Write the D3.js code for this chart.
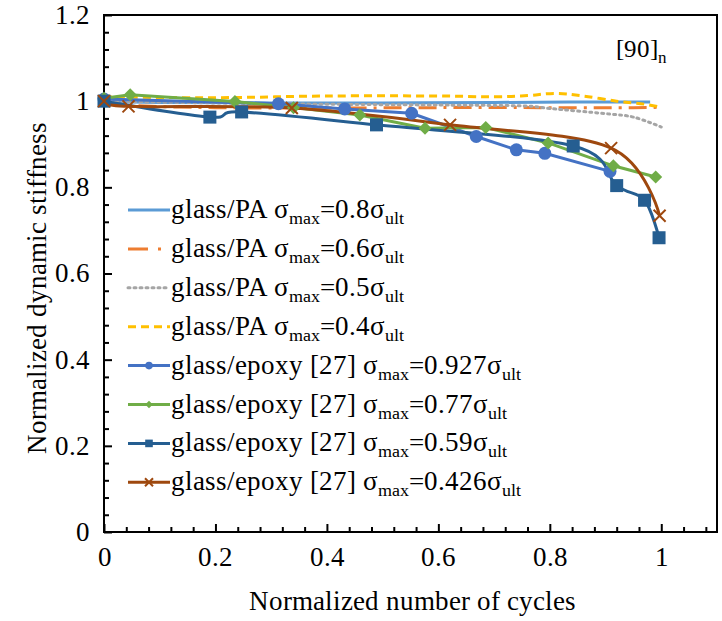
<!DOCTYPE html>
<html>
<head>
<meta charset="utf-8">
<script src="https://cdn.jsdelivr.net/npm/d3@7"></script>
<style>
  @font-face {
    font-family: "ChartSerif";
    src: local("Liberation Serif"), local("LiberationSerif"), local("LiberationSerif-Regular"),
         local("Times New Roman"), local("DejaVu Serif"), local("DejaVuSerif");
  }
  body { margin: 0; background: #fff; }
  svg text { font-family: "ChartSerif", "Liberation Serif", "Times New Roman", Tinos, "DejaVu Serif", serif; fill: #000; }
</style>
</head>
<body>
<svg id="chart"></svg>
<script>
// tick values
const xMajor = [0, 0.2, 0.4, 0.6, 0.8, 1];
const yMajor = [0, 0.2, 0.4, 0.6, 0.8, 1, 1.2];

// glass/PA series (dense curves, no markers)
const pa08 = [[0, 1.0], [0.1, 0.997], [0.3, 0.996], [0.5, 0.996], [0.7, 0.997], [0.85, 0.998], [0.98, 0.998]];
const pa06 = [[0, 1.0], [0.05, 0.99], [0.2, 0.985], [0.4, 0.984], [0.6, 0.985], [0.8, 0.985], [0.95, 0.985], [1.0, 0.986]];
const pa05 = [[0, 1.0], [0.3, 0.994], [0.6, 0.991], [0.75, 0.989], [0.8, 0.983], [0.9, 0.971], [0.95, 0.963], [1.0, 0.94]];
const pa04 = [[0, 1.01], [0.2, 1.008], [0.4, 1.012], [0.6, 1.012], [0.7, 1.01], [0.76, 1.013], [0.81, 1.018], [0.86, 1.012], [0.92, 1.0], [0.97, 0.993], [1.0, 0.986]];

// glass/epoxy [27] series (with markers)
const ep0927 = [[0, 1.005], [0.313, 0.994], [0.432, 0.982], [0.552, 0.972], [0.668, 0.918], [0.74, 0.887], [0.791, 0.879], [0.908, 0.837]];
const ep077 = [[0, 1.007], [0.047, 1.015], [0.235, 0.999], [0.34, 0.985], [0.459, 0.968], [0.576, 0.937], [0.685, 0.939], [0.797, 0.903], [0.914, 0.85], [0.99, 0.824]];
const ep059 = [[0, 1.0], [0.19, 0.963], [0.247, 0.975], [0.489, 0.945], [0.842, 0.896], [0.92, 0.804], [0.97, 0.77], [0.996, 0.683]];
const ep0426 = [[0, 1.0], [0.044, 0.988], [0.337, 0.984], [0.621, 0.945], [0.91, 0.891], [0.997, 0.734]];

// legend text
const legendMaterial = ['glass/PA', 'glass/PA', 'glass/PA', 'glass/PA',
  'glass/epoxy [27]', 'glass/epoxy [27]', 'glass/epoxy [27]', 'glass/epoxy [27]'];
const legendRatio = ['0.8', '0.6', '0.5', '0.4', '0.927', '0.77', '0.59', '0.426'];

const series = [
  { data: pa08, color: '#5B9BD5', dash: null, marker: null, smooth: true },
  { data: pa06, color: '#ED7D31', dash: '18,7,3,7', marker: null, smooth: true },
  { data: pa05, color: '#A5A5A5', dash: '2,4', marker: null, smooth: true },
  { data: pa04, color: '#FFC000', dash: '8,5', marker: null, smooth: true },
  { data: ep0927, color: '#4472C4', dash: null, marker: 'circle', smooth: false },
  { data: ep077, color: '#70AD47', dash: null, marker: 'diamond', smooth: false },
  { data: ep059, color: '#255E91', dash: null, marker: 'square', smooth: true },
  { data: ep0426, color: '#9E480E', dash: null, marker: 'cross', smooth: true }
];

const W = 722;
const H = 621;
const margin = { top: 15, right: 5, bottom: 89, left: 104 };
const width = W - margin.left - margin.right;
const height = H - margin.top - margin.bottom;
const fontSize = 26.5;

const svg = d3.select('#chart')
    .attr('width', W)
    .attr('height', H);

const g = svg.append('g')
    .attr('transform', `translate(${margin.left}, ${margin.top})`);

const x = d3.scaleLinear().domain([0, 1.1]).range([0, width]);
const y = d3.scaleLinear().domain([0, 1.2]).range([height, 0]);

const fmt = d3.format('~g');

// minor ticks (inside)
const xMinor = d3.range(0, 1.1, 0.04).filter(v => Math.abs(v / 0.2 - Math.round(v / 0.2)) > 1e-6);
const yMinor = d3.range(0, 1.2, 0.04).filter(v => Math.abs(v / 0.2 - Math.round(v / 0.2)) > 1e-6);

g.append('g')
    .attr('class', 'axis')
    .attr('transform', `translate(0, ${height})`)
    .call(d3.axisBottom(x).tickValues(xMinor).tickFormat('').tickSizeInner(-5).tickSizeOuter(0));

g.append('g')
    .attr('class', 'axis')
    .call(d3.axisLeft(y).tickValues(yMinor).tickFormat('').tickSizeInner(-5).tickSizeOuter(0));

g.append('g')
    .attr('class', 'axis x-major')
    .attr('transform', `translate(0, ${height})`)
    .call(d3.axisBottom(x).tickValues(xMajor).tickFormat(fmt).tickSizeInner(-8).tickSizeOuter(0).tickPadding(15));

g.append('g')
    .attr('class', 'axis y-major')
    .call(d3.axisLeft(y).tickValues(yMajor).tickFormat(fmt).tickSizeInner(-8).tickSizeOuter(0).tickPadding(14));

g.selectAll('.axis .domain').remove();
g.selectAll('.axis line').attr('stroke', '#000').attr('stroke-width', 2);
g.selectAll('.axis').attr('font-family', null).attr('font-size', null);
g.selectAll('.axis text')
    .attr('font-size', fontSize)
    .attr('fill', '#000');
g.selectAll('.x-major text').attr('dy', '0.71em');

// frame
g.append('rect')
    .attr('width', width)
    .attr('height', height)
    .attr('fill', 'none')
    .attr('stroke', '#000')
    .attr('stroke-width', 2);

// axis titles
svg.append('text')
    .attr('x', margin.left + width / 2 + 2)
    .attr('y', 610)
    .attr('text-anchor', 'middle')
    .attr('font-size', fontSize)
    .text('Normalized number of cycles');

svg.append('text')
    .attr('transform', `translate(46, ${margin.top + height / 2 + 14}) rotate(-90)`)
    .attr('text-anchor', 'middle')
    .attr('font-size', fontSize)
    .text('Normalized dynamic stiffness');

// [90]n label
const lay = svg.append('text')
    .attr('x', 616)
    .attr('y', 57)
    .attr('font-size', 25);
lay.append('tspan').text('[90]');
lay.append('tspan').attr('dy', 6).attr('font-size', 17).text('n');

// lines
const lineSmooth = d3.line()
    .x(d => x(d[0]))
    .y(d => y(d[1]))
    .curve(d3.curveCatmullRom.alpha(0));

const lineStraight = d3.line()
    .x(d => x(d[0]))
    .y(d => y(d[1]));

const plot = g.append('g');

series.forEach((s) => {
  plot.append('path')
    .datum(s.data)
    .attr('fill', 'none')
    .attr('stroke', s.color)
    .attr('stroke-width', 3)
    .attr('stroke-linecap', s.dash === '2,4' ? 'round' : 'butt')
    .attr('stroke-dasharray', s.dash)
    .attr('d', s.smooth ? lineSmooth : lineStraight);
});

// markers
function drawMarker(sel, type, color, r) {
  if (type === 'circle') {
    sel.append('circle').attr('r', r).attr('fill', color);
  } else if (type === 'square') {
    sel.append('rect').attr('x', -r).attr('y', -r).attr('width', 2 * r).attr('height', 2 * r).attr('fill', color);
  } else if (type === 'diamond') {
    sel.append('path').attr('d', `M0,${-r}L${r},0L0,${r}L${-r},0Z`).attr('fill', color);
  } else if (type === 'cross') {
    sel.append('path')
      .attr('d', `M${-r},${-r}L${r},${r}M${-r},${r}L${r},${-r}`)
      .attr('stroke', color)
      .attr('stroke-width', 2)
      .attr('fill', 'none');
  }
}

const markerSize = { circle: 6.5, square: 6.5, diamond: 6.5, cross: 6 };

series.filter(s => s.marker).forEach((s) => {
  s.data.forEach((d) => {
    const m = plot.append('g').attr('transform', `translate(${x(d[0])}, ${y(d[1])})`);
    drawMarker(m, s.marker, s.color, markerSize[s.marker]);
  });
});

// legend
const legend = svg.append('g').attr('class', 'legend');
const rowY0 = 210;
const rowStep = 38.9;

series.forEach((s, i) => {
  const ry = rowY0 + i * rowStep;
  const row = legend.append('g').attr('transform', `translate(0, ${ry})`);
  row.append('line')
    .attr('x1', 128)
    .attr('x2', 170)
    .attr('stroke', s.color)
    .attr('stroke-width', 3)
    .attr('stroke-linecap', s.dash === '2,4' ? 'round' : 'butt')
    .attr('stroke-dasharray', s.dash === '18,7,3,7' ? '20,10,3,9' : s.dash);
  if (s.marker) {
    const m = row.append('g').attr('transform', 'translate(149, 0)');
    drawMarker(m, s.marker, s.color, s.marker === 'cross' ? 4 : 3.8);
  }
  const t = row.append('text')
      .attr('x', 171)
      .attr('y', 8)
      .attr('font-size', fontSize);
  t.append('tspan').text(`${legendMaterial[i]} σ`);
  t.append('tspan').attr('dy', 6).attr('font-size', 18).text('max');
  t.append('tspan').attr('dy', -6).text(`=${legendRatio[i]}σ`);
  t.append('tspan').attr('dy', 6).attr('font-size', 18).text('ult');
});
</script>
</body>
</html>
